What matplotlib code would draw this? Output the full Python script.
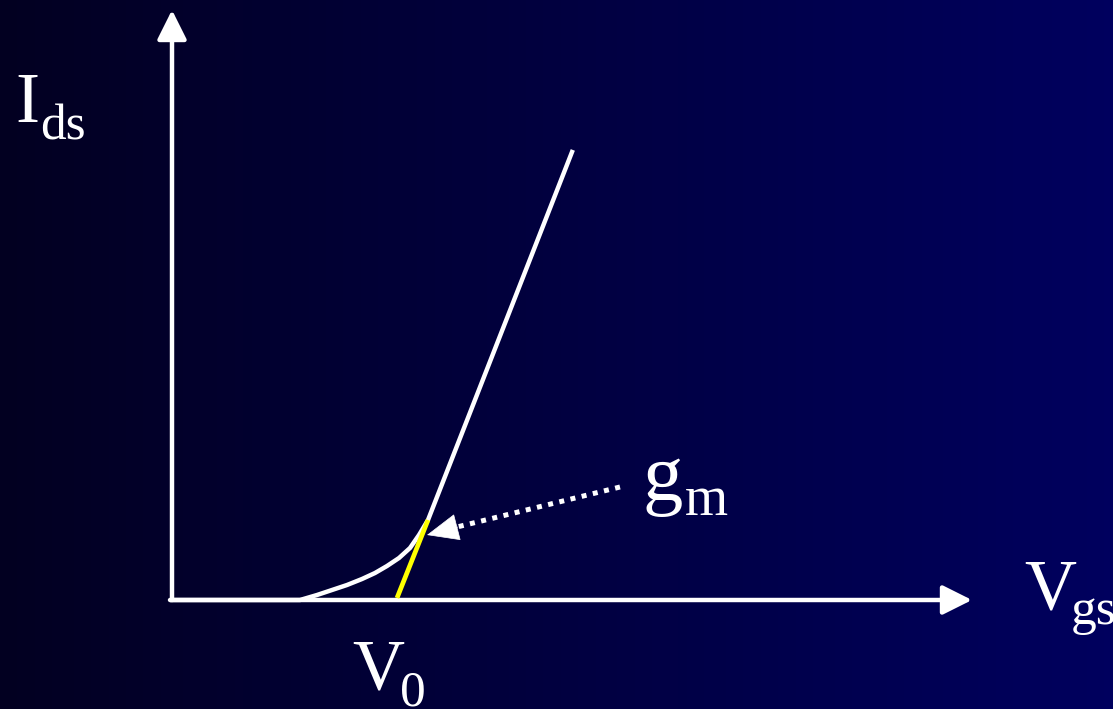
import numpy as np
import matplotlib.pyplot as plt

# transfer curve Ids(Vgs), schematic units
vgs = [0.0, 1.28, 1.45, 1.60, 1.75, 1.90, 2.03, 2.15, 2.27, 2.38, 2.47, 2.56, 4.00]
ids = [0.0, 0.00, 0.05, 0.10, 0.15, 0.21, 0.27, 0.34, 0.42, 0.52, 0.65, 0.80, 4.48]
# tangent (gm) segment, V0 on the Vgs axis
tan_vgs = [2.25, 2.56]
tan_ids = [0.02, 0.80]
v0 = 2.25

fig = plt.figure(figsize=(11.13, 7.09), dpi=100)
ax = fig.add_axes([0, 0, 1, 1])
ax.set_xlim(-1.72, 9.41)
ax.set_ylim(-1.09, 6.00)
ax.axis('off')

# background gradient, dark left -> navy right
grad = np.linspace(0, 1, 256).reshape(1, -1)
c0 = np.array([0.01, 0.0, 0.13])
c1 = np.array([0.0, 0.0, 0.37])
img = c0 + (c1 - c0) * grad[..., None]
ax.imshow(img, extent=(-1.72, 9.41, -1.09, 6.00), aspect='auto', zorder=0)

# axes with arrows
ax.annotate('', xy=(0, 5.90), xytext=(0, 0),
            arrowprops=dict(arrowstyle='-|>', color='white', lw=3.2,
                            mutation_scale=45, shrinkA=0, shrinkB=0))
ax.annotate('', xy=(8.00, 0), xytext=(-0.02, 0),
            arrowprops=dict(arrowstyle='-|>', color='white', lw=3.2,
                            mutation_scale=45, shrinkA=0, shrinkB=0))

# curve
ax.plot(vgs, ids, color='white', lw=3.2, solid_joinstyle='round', zorder=3)
ax.plot(tan_vgs, tan_ids, color='yellow', lw=3.4, solid_capstyle='butt', zorder=4)

# dotted arrow pointing at tangent point
ax.plot([4.48, 2.85], [1.13, 0.73], color='white', lw=3.6,
        ls=(0, (1, 1.3)), dash_capstyle='butt', zorder=3)
ax.annotate('', xy=(2.55, 0.65), xytext=(2.86, 0.73),
            arrowprops=dict(arrowstyle='-|>,head_length=0.4,head_width=0.17',
                            color='white', lw=0.5, mutation_scale=54,
                            shrinkA=0, shrinkB=0))

# labels
font = dict(family=['Liberation Serif', 'DejaVu Serif'], color='white')
ax.text(-1.57, 4.78, 'I', fontsize=52, va='baseline', ha='left', **font)
ax.text(-1.32, 4.60, 'ds', fontsize=37, va='baseline', ha='left', **font)
ax.text(8.52, -0.08, 'V', fontsize=52, va='baseline', ha='left', **font)
ax.text(8.99, -0.24, 'gs', fontsize=37, va='baseline', ha='left', **font)
ax.text(4.70, 1.00, 'g', fontsize=58, va='baseline', ha='left', **font)
ax.text(5.13, 0.85, 'm', fontsize=40, va='baseline', ha='left', **font)
ax.text(v0 - 0.45, -0.88, 'V', fontsize=52, va='baseline', ha='left', **font)
ax.text(v0 + 0.03, -1.05, '0', fontsize=37, va='baseline', ha='left', **font)

fig.savefig('out.png', dpi=100)
